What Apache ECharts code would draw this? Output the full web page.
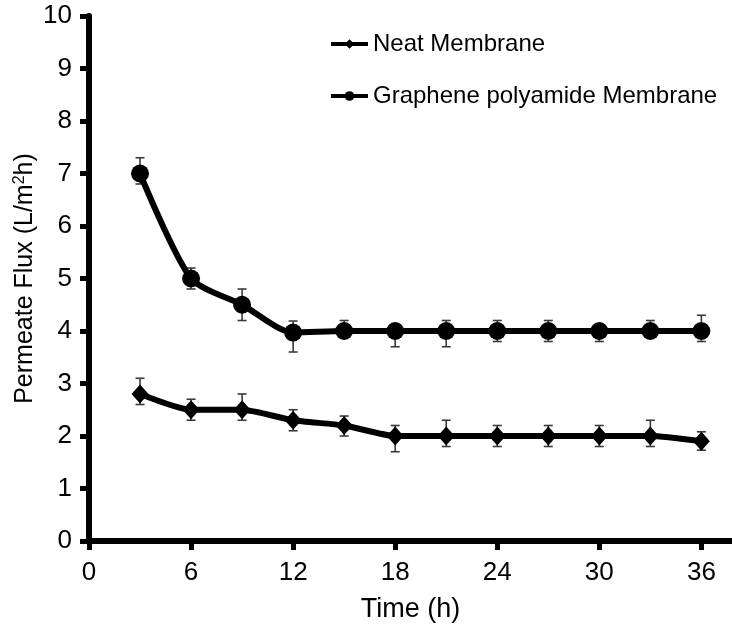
<!DOCTYPE html>
<html>
<head>
<meta charset="utf-8">
<script src="https://cdn.jsdelivr.net/npm/echarts@6/dist/echarts.min.js"></script>
<style>html,body{margin:0;padding:0;background:#fff;}#c{width:732px;height:628px;}</style>
</head>
<body>
<div id="c"></div>
<script>
var times = [3, 6, 9, 12, 15, 18, 21, 24, 27, 30, 33, 36];
var neat = [2.8, 2.5, 2.5, 2.3, 2.2, 2.0, 2.0, 2.0, 2.0, 2.0, 2.0, 1.9];
var neatErrUp = [0.3, 0.2, 0.3, 0.2, 0.18, 0.2, 0.3, 0.2, 0.2, 0.2, 0.3, 0.18];
var neatErrDown = [0.2, 0.2, 0.2, 0.2, 0.2, 0.3, 0.2, 0.2, 0.2, 0.2, 0.2, 0.17];
var graphene = [7.0, 5.0, 4.5, 3.97, 4.0, 4.0, 4.0, 4.0, 4.0, 4.0, 4.0, 4.0];
var grapheneErrUp = [0.3, 0.2, 0.3, 0.22, 0.2, 0.1, 0.2, 0.2, 0.2, 0.1, 0.2, 0.3];
var grapheneErrDown = [0.2, 0.2, 0.3, 0.37, 0.1, 0.3, 0.3, 0.2, 0.2, 0.2, 0.1, 0.2];
var xTicks = [0, 6, 12, 18, 24, 30, 36];
var yTicks = [0, 1, 2, 3, 4, 5, 6, 7, 8, 9, 10];
var seriesNames = ['Neat Membrane', 'Graphene polyamide Membrane'];
var xName = 'Time (h)';
var yName = 'Permeate Flux (L/m{sup|2}h)';

var FONT = '"Liberation Sans", Arial, Helvetica, sans-serif';

function pairs(xs, ys) { return xs.map(function (x, i) { return [x, ys[i]]; }); }
function errData(xs, ys, up, down) {
  return xs.map(function (x, i) { return [x, ys[i] - down[i], ys[i] + up[i]]; });
}
function renderErr(params, api) {
  var x = api.value(0);
  var lo = api.coord([x, api.value(1)]);
  var hi = api.coord([x, api.value(2)]);
  var cap = 4.5;
  var st = { stroke: '#3a3a3a', lineWidth: 1.6 };
  return {
    type: 'group',
    children: [
      { type: 'line', shape: { x1: lo[0], y1: lo[1], x2: hi[0], y2: hi[1] }, style: st },
      { type: 'line', shape: { x1: hi[0] - cap, y1: hi[1], x2: hi[0] + cap, y2: hi[1] }, style: st },
      { type: 'line', shape: { x1: lo[0] - cap, y1: lo[1], x2: lo[0] + cap, y2: lo[1] }, style: st }
    ]
  };
}

var chart = echarts.init(document.getElementById('c'), null, { renderer: 'canvas' });
chart.setOption({
  animation: false,
  backgroundColor: '#ffffff',
  textStyle: { fontFamily: FONT },
  grid: { left: 89, right: 0, top: 16, bottom: 87, containLabel: false },
  legend: {
    orient: 'vertical',
    left: 329,
    top: 31,
    padding: 0,
    itemWidth: 37,
    itemHeight: 12,
    itemGap: 26,
    data: seriesNames,
    lineStyle: { width: 4, color: '#000' },
    textStyle: { fontFamily: FONT, fontSize: 24, color: '#000', lineHeight: 26 }
  },
  xAxis: [{
    type: 'value',
    min: 0,
    max: 37.8,
    name: xName,
    nameLocation: 'middle',
    nameGap: 55,
    nameMoveOverlap: false,
    nameTextStyle: { fontFamily: FONT, fontSize: 27, color: '#000' },
    axisLine: { show: true, onZero: false, lineStyle: { color: '#000', width: 6 } },
    axisTick: { show: true, customValues: xTicks, length: 9, lineStyle: { color: '#000', width: 5 } },
    axisLabel: { customValues: xTicks, margin: 19, fontFamily: FONT, fontSize: 26, color: '#000' },
    splitLine: { show: false }
  }, {
    type: 'value',
    position: 'top',
    min: 0,
    max: 37.8,
    axisLine: { show: true, lineStyle: { color: '#000', width: 5 } },
    axisTick: { show: false },
    axisLabel: { show: false },
    splitLine: { show: false }
  }],
  yAxis: {
    type: 'value',
    min: 0,
    max: 10,
    interval: 1,
    name: yName,
    nameLocation: 'middle',
    nameGap: 51,
    nameMoveOverlap: false,
    nameTextStyle: {
      fontFamily: FONT, fontSize: 25, color: '#000',
      rich: { sup: { fontFamily: FONT, fontSize: 16, color: '#000', verticalAlign: 'top', padding: [0, 0, 10, 0] } }
    },
    axisLine: { show: true, lineStyle: { color: '#000', width: 6 } },
    axisTick: { show: true, length: 9, lineStyle: { color: '#000', width: 5 } },
    axisLabel: { margin: 17, fontFamily: FONT, fontSize: 26, color: '#000' },
    splitLine: { show: false }
  },
  series: [{
    type: 'custom',
    name: 'neatErr',
    renderItem: renderErr,
    data: errData(times, neat, neatErrUp, neatErrDown),
    encode: { x: 0, y: [1, 2] },
    z: 1,
    silent: true
  }, {
    type: 'custom',
    name: 'grapheneErr',
    renderItem: renderErr,
    data: errData(times, graphene, grapheneErrUp, grapheneErrDown),
    encode: { x: 0, y: [1, 2] },
    z: 1,
    silent: true
  }, {
    type: 'line',
    name: seriesNames[0],
    data: pairs(times, neat),
    smooth: 0.2,
    symbol: 'diamond',
    symbolSize: [17, 19],
    lineStyle: { color: '#000', width: 6 },
    itemStyle: { color: '#000' },
    z: 3
  }, {
    type: 'line',
    name: seriesNames[1],
    data: pairs(times, graphene),
    smooth: 0.25,
    symbol: 'circle',
    symbolSize: 18,
    lineStyle: { color: '#000', width: 6 },
    itemStyle: { color: '#000' },
    z: 3
  }]
});
</script>
</body>
</html>
